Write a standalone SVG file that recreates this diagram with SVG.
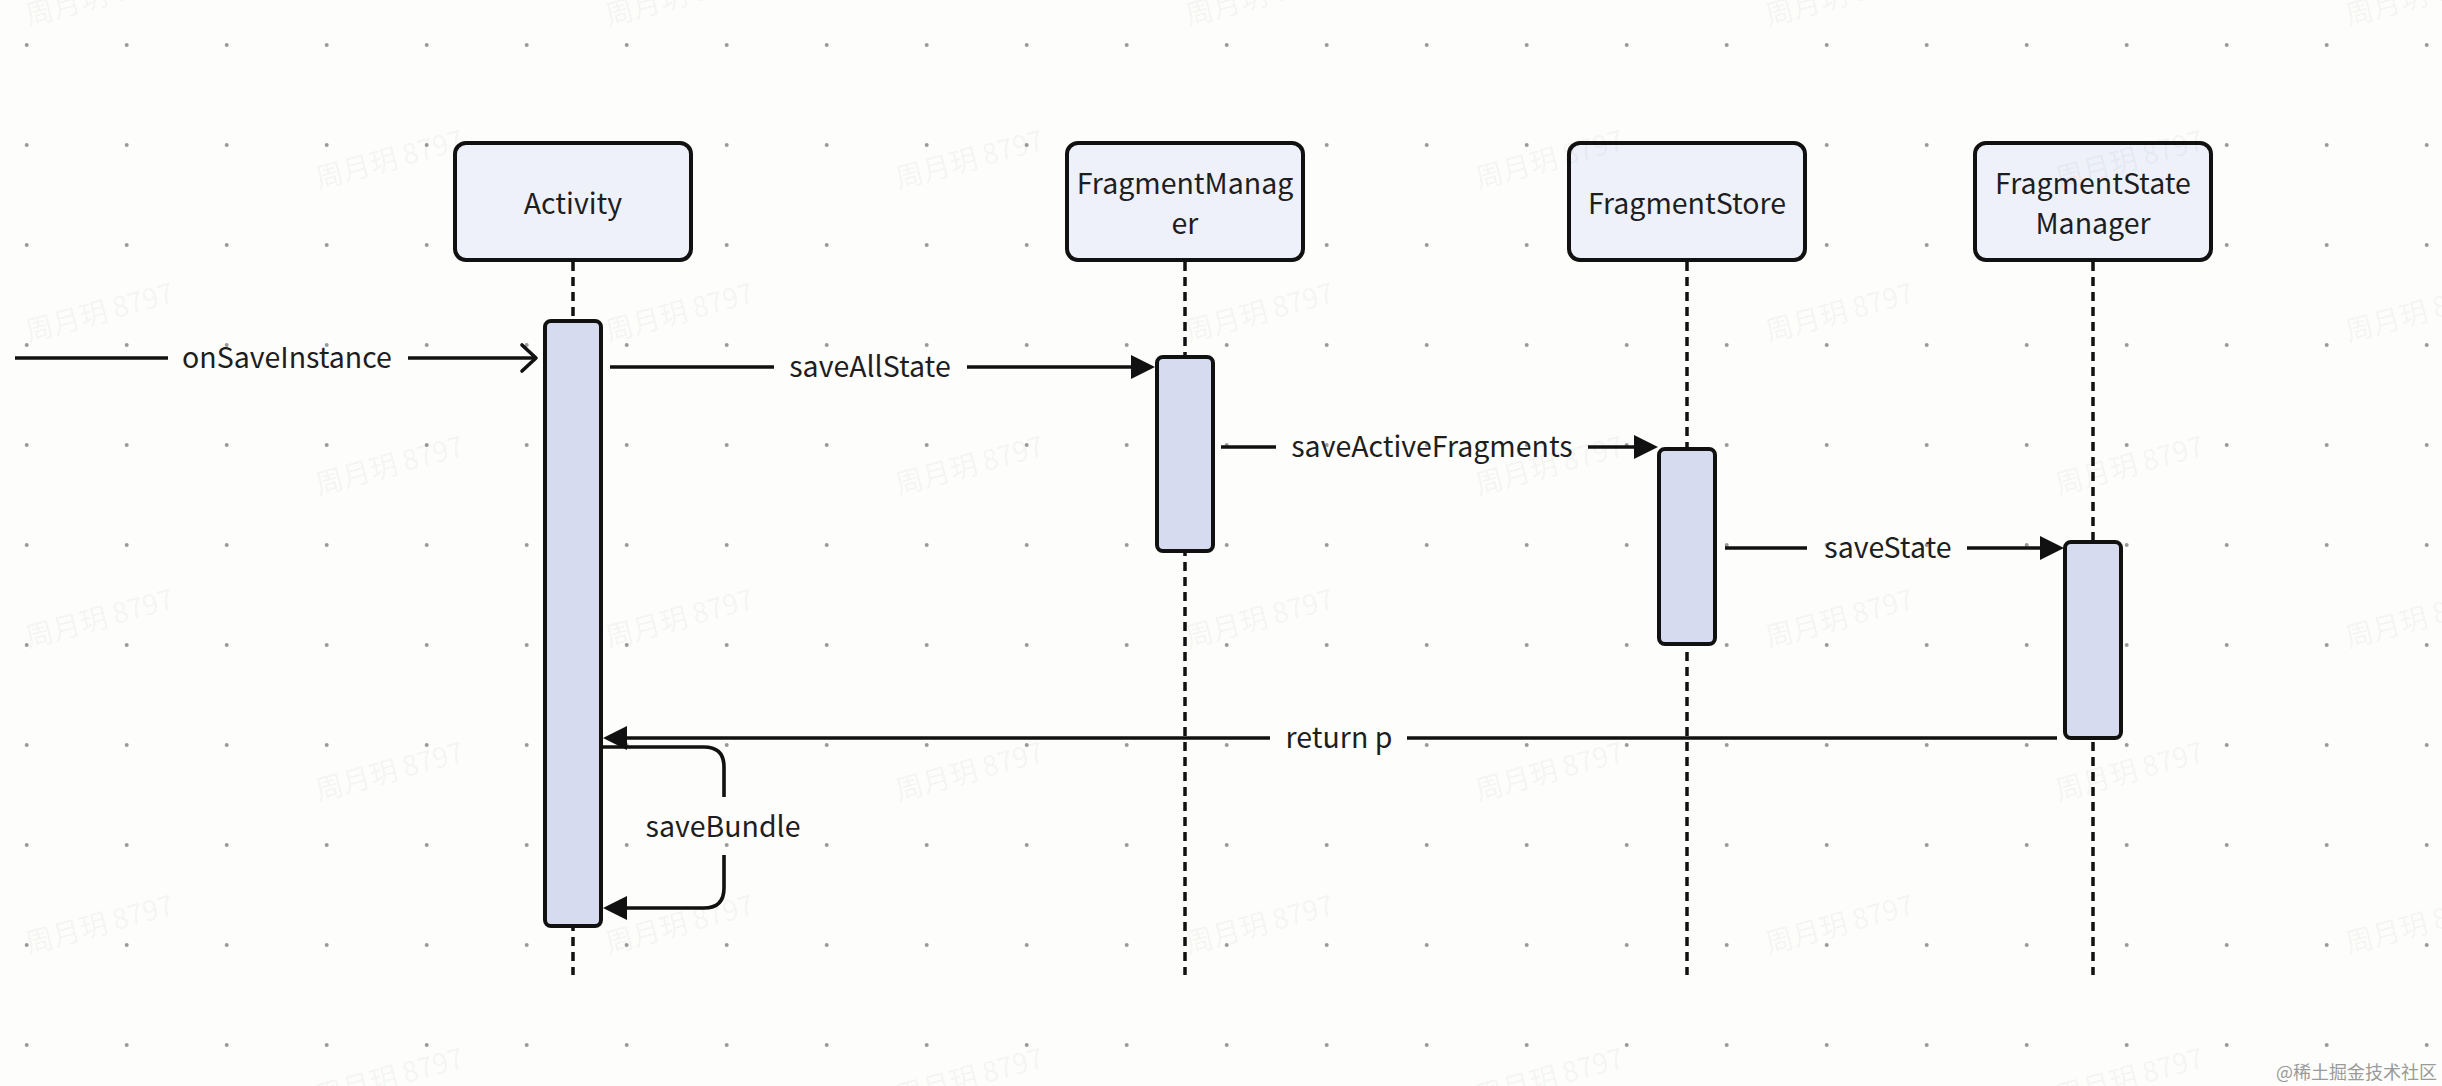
<svg xmlns="http://www.w3.org/2000/svg" width="2442" height="1086" viewBox="0 0 2442 1086">
  <style>
    .bg { fill: #fdfdfb; }
    .head { fill: #eef1fa; stroke: #111; stroke-width: 4; }
    .bar { fill: #d6dbf0; stroke: #111; stroke-width: 4; }
    .life { stroke: #111; stroke-width: 3.5; stroke-dasharray: 9 6; fill: none; }
    .msg { stroke: #111; stroke-width: 3.6; fill: none; }
    .lbl { font-family: "Noto Sans CJK SC", "Noto Sans", sans-serif; font-size: 28.5px; fill: #1e1e1e; text-anchor: middle; }
    .wm { font-family: "Noto Sans CJK SC", sans-serif; font-size: 28px; fill: #000; fill-opacity: 0.055; text-anchor: middle; }
    .logo { font-family: "Noto Sans CJK SC", sans-serif; font-size: 18px; fill: #9a9a9a; }
  </style>
  <defs>
    <pattern id="dots" patternUnits="userSpaceOnUse" x="0" y="0" width="100" height="100">
      <circle cx="26.7" cy="45" r="2" fill="#9a9a9a"/>
    </pattern>
    <marker id="arrow" markerUnits="userSpaceOnUse" viewBox="0 0 24 24" markerWidth="24" markerHeight="24" refX="20" refY="12" orient="auto">
      <path d="M0,0 L24,12 L0,24 Z" fill="#111"/>
    </marker>
    <marker id="open" markerUnits="userSpaceOnUse" viewBox="-4 -4 24 34" markerWidth="24" markerHeight="34" refX="14" refY="13" orient="auto" overflow="visible">
      <path d="M0,0 L14,13 L0,26" fill="none" stroke="#111" stroke-width="3.6" stroke-linejoin="round" stroke-linecap="round"/>
    </marker>
  </defs>

  <rect class="bg" x="0" y="0" width="2442" height="1086"/>
  <rect x="0" y="0" width="2442" height="1086" fill="url(#dots)"/>

  <g id="lifelines">
    <line class="life" x1="573" y1="262" x2="573" y2="975"/>
    <line class="life" x1="1185" y1="262" x2="1185" y2="975"/>
    <line class="life" x1="1687" y1="262" x2="1687" y2="975"/>
    <line class="life" x1="2093" y1="262" x2="2093" y2="975"/>
  </g>

  <g id="node-activity">
    <rect class="head" x="455" y="143" width="236" height="117" rx="11"/>
    <text class="lbl" x="573" y="214">Activity</text>
    <rect class="bar" x="545" y="321" width="56" height="605" rx="6"/>
  </g>
  <g id="node-fragmentmanager">
    <rect class="head" x="1067" y="143" width="236" height="117" rx="11"/>
    <text class="lbl" x="1185" y="194">FragmentManag<tspan x="1185" dy="40">er</tspan></text>
    <rect class="bar" x="1157" y="357" width="56" height="194" rx="6"/>
  </g>
  <g id="node-fragmentstore">
    <rect class="head" x="1569" y="143" width="236" height="117" rx="11"/>
    <text class="lbl" x="1687" y="214">FragmentStore</text>
    <rect class="bar" x="1659" y="449" width="56" height="195" rx="6"/>
  </g>
  <g id="node-fragmentstatemanager">
    <rect class="head" x="1975" y="143" width="236" height="117" rx="11"/>
    <text class="lbl" x="2093" y="194">FragmentState<tspan x="2093" dy="40">Manager</tspan></text>
    <rect class="bar" x="2065" y="542" width="56" height="196" rx="6"/>
  </g>

  <g id="connectors">
    <path class="msg" d="M15,358 H168"/>
    <path class="msg" d="M408,358 H536" marker-end="url(#open)"/>
    <text class="lbl" x="287" y="368">onSaveInstance</text>

    <path class="msg" d="M610,367 H774"/>
    <path class="msg" d="M967,367 H1151" marker-end="url(#arrow)"/>
    <text class="lbl" x="870" y="377">saveAllState</text>

    <path class="msg" d="M1221,447 H1276"/>
    <path class="msg" d="M1588,447 H1654" marker-end="url(#arrow)"/>
    <text class="lbl" x="1432" y="457">saveActiveFragments</text>

    <path class="msg" d="M1725,548 H1807"/>
    <path class="msg" d="M1967,548 H2060" marker-end="url(#arrow)"/>
    <text class="lbl" x="1888" y="558">saveState</text>

    <path class="msg" d="M2057,738 H1407"/>
    <path class="msg" d="M1270,738 H607" marker-end="url(#arrow)"/>
    <text class="lbl" x="1339" y="748">return p</text>

    <path class="msg" d="M603,747 H704 Q724,747 724,767 V797"/>
    <path class="msg" d="M724,855 V888 Q724,908 704,908 H607" marker-end="url(#arrow)"/>
    <text class="lbl" x="723" y="837">saveBundle</text>
  </g>

  <g id="watermarks">
    <text class="wm" transform="translate(102,6) rotate(-15)">周月玥 8797</text>
    <text class="wm" transform="translate(682,6) rotate(-15)">周月玥 8797</text>
    <text class="wm" transform="translate(1262,6) rotate(-15)">周月玥 8797</text>
    <text class="wm" transform="translate(1842,6) rotate(-15)">周月玥 8797</text>
    <text class="wm" transform="translate(2422,6) rotate(-15)">周月玥 8797</text>
    <text class="wm" transform="translate(392,169) rotate(-15)">周月玥 8797</text>
    <text class="wm" transform="translate(972,169) rotate(-15)">周月玥 8797</text>
    <text class="wm" transform="translate(1552,169) rotate(-15)">周月玥 8797</text>
    <text class="wm" transform="translate(2132,169) rotate(-15)">周月玥 8797</text>
    <text class="wm" transform="translate(102,322) rotate(-15)">周月玥 8797</text>
    <text class="wm" transform="translate(682,322) rotate(-15)">周月玥 8797</text>
    <text class="wm" transform="translate(1262,322) rotate(-15)">周月玥 8797</text>
    <text class="wm" transform="translate(1842,322) rotate(-15)">周月玥 8797</text>
    <text class="wm" transform="translate(2422,322) rotate(-15)">周月玥 8797</text>
    <text class="wm" transform="translate(392,475) rotate(-15)">周月玥 8797</text>
    <text class="wm" transform="translate(972,475) rotate(-15)">周月玥 8797</text>
    <text class="wm" transform="translate(1552,475) rotate(-15)">周月玥 8797</text>
    <text class="wm" transform="translate(2132,475) rotate(-15)">周月玥 8797</text>
    <text class="wm" transform="translate(102,628) rotate(-15)">周月玥 8797</text>
    <text class="wm" transform="translate(682,628) rotate(-15)">周月玥 8797</text>
    <text class="wm" transform="translate(1262,628) rotate(-15)">周月玥 8797</text>
    <text class="wm" transform="translate(1842,628) rotate(-15)">周月玥 8797</text>
    <text class="wm" transform="translate(2422,628) rotate(-15)">周月玥 8797</text>
    <text class="wm" transform="translate(392,781) rotate(-15)">周月玥 8797</text>
    <text class="wm" transform="translate(972,781) rotate(-15)">周月玥 8797</text>
    <text class="wm" transform="translate(1552,781) rotate(-15)">周月玥 8797</text>
    <text class="wm" transform="translate(2132,781) rotate(-15)">周月玥 8797</text>
    <text class="wm" transform="translate(102,934) rotate(-15)">周月玥 8797</text>
    <text class="wm" transform="translate(682,934) rotate(-15)">周月玥 8797</text>
    <text class="wm" transform="translate(1262,934) rotate(-15)">周月玥 8797</text>
    <text class="wm" transform="translate(1842,934) rotate(-15)">周月玥 8797</text>
    <text class="wm" transform="translate(2422,934) rotate(-15)">周月玥 8797</text>
    <text class="wm" transform="translate(392,1087) rotate(-15)">周月玥 8797</text>
    <text class="wm" transform="translate(972,1087) rotate(-15)">周月玥 8797</text>
    <text class="wm" transform="translate(1552,1087) rotate(-15)">周月玥 8797</text>
    <text class="wm" transform="translate(2132,1087) rotate(-15)">周月玥 8797</text>
  </g>
  <text class="logo" x="2437" y="1079" text-anchor="end">@稀土掘金技术社区</text>
</svg>
